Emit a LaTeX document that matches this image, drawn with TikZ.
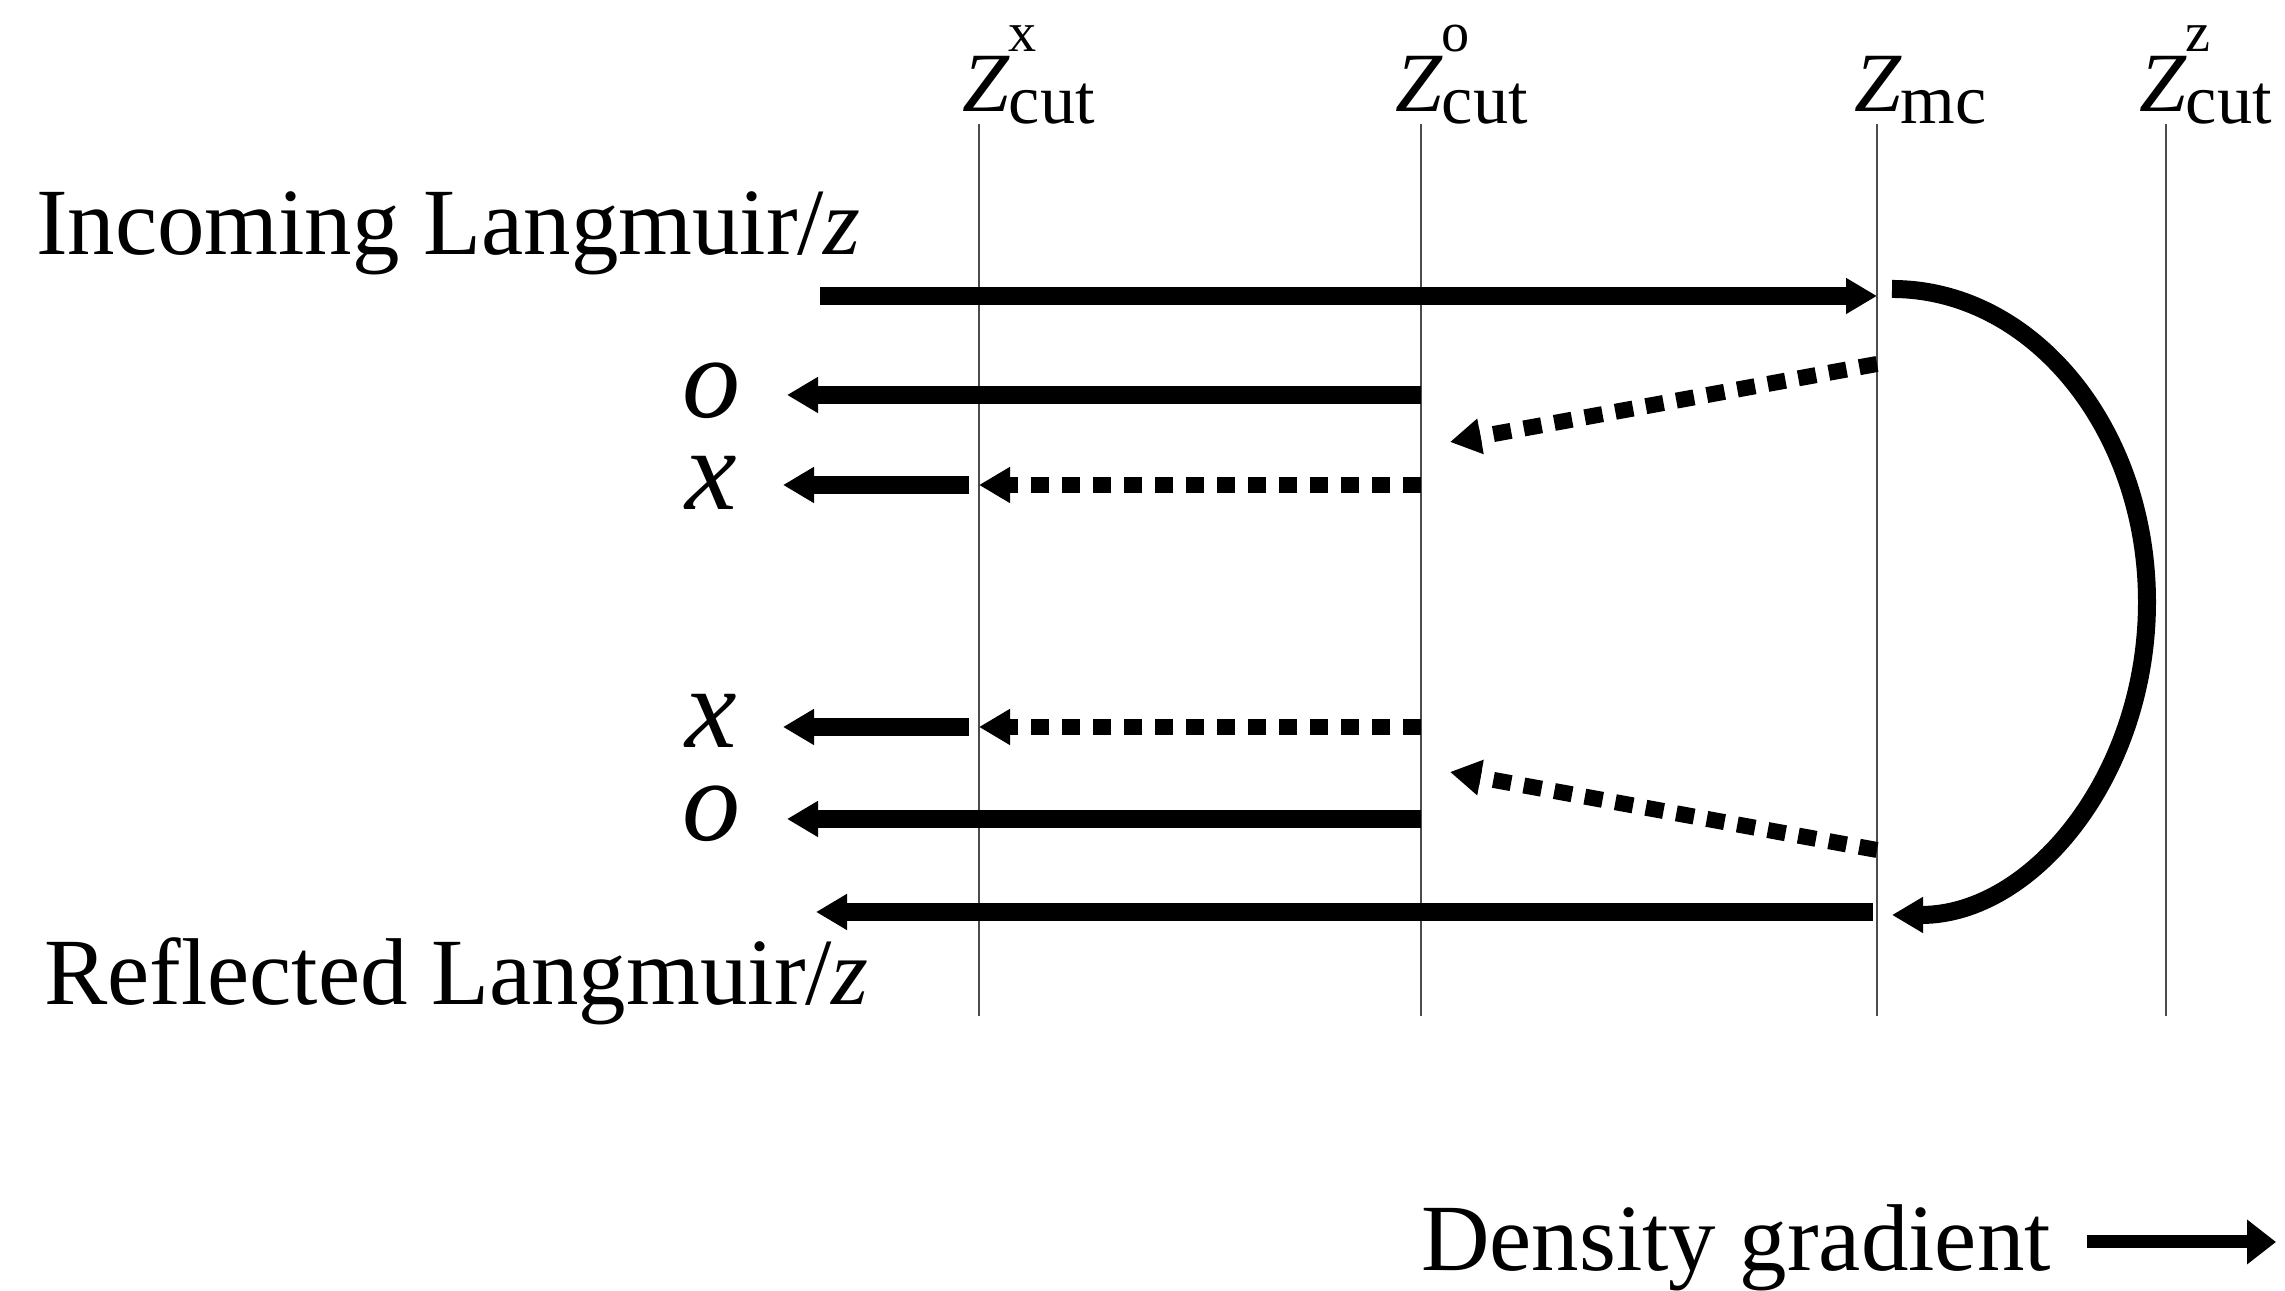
\documentclass[tikz,border=0pt]{standalone}
\usepackage{fontspec}
\setmainfont{Liberation Serif}
\usetikzlibrary{arrows.meta,positioning,calc}

% Z label with superscript and subscript set in text
\newcommand{\zlabel}[2]{{\itshape Z}\rlap{\raisebox{0.72em}{\fontsize{16}{16}\selectfont #1}}\raisebox{-0.14em}{\fontsize{20}{20}\selectfont #2}}

\begin{document}
\begin{tikzpicture}[
  every node/.style={inner sep=0pt, outer sep=0pt},
  txt/.style={font=\fontsize{27}{30}\selectfont, anchor=base west},
  zlab/.style={font=\fontsize{24}{26}\selectfont, anchor=base west},
  mode/.style={font=\fontsize{33}{34}\selectfont\itshape, anchor=base},
  cutline/.style={draw=black!70, line width=0.8pt},
  solidarr/.style={line width=0.18cm, -{Triangle[length=0.31cm, width=0.34cm]}},
  dotarr/.style={line width=0.16cm, dash pattern=on 0.18cm off 0.13cm,
                 -{Triangle[length=0.31cm, width=0.34cm]}},
  gradarr/.style={line width=0.13cm, -{Triangle[length=0.29cm, width=0.43cm]}},
]
\useasboundingbox (0,0) rectangle (22.85,12.91);

%% Cut-off lines
\coordinate (xtop)  at (9.79,11.67);  \coordinate (xbot)  at (9.79,2.75);
\coordinate (otop)  at (14.21,11.67); \coordinate (obot)  at (14.21,2.75);
\coordinate (mctop) at (18.77,11.67); \coordinate (mcbot) at (18.77,2.75);
\coordinate (ztop)  at (21.66,11.67); \coordinate (zbot)  at (21.66,2.75);
\draw[cutline] (xtop) -- (xbot);
\draw[cutline] (otop) -- (obot);
\draw[cutline] (mctop) -- (mcbot);
\draw[cutline] (ztop) -- (zbot);

%% Line labels
\node[zlab] (zx)  at (9.62,11.79)  {\zlabel{x}{cut}};
\node[zlab] (zo)  at (13.95,11.79) {\zlabel{o}{cut}};
\node[zlab] (zmc) at (18.54,11.79) {\zlabel{}{mc}};
\node[zlab] (zz)  at (21.39,11.79) {\zlabel{z}{cut}};

%% Side texts
\node[txt] (incoming)  at (0.36,10.36) {Incoming Langmuir/\textit{z}};
\node[txt] (reflected) at (0.44,2.86)  {Reflected Langmuir/\textit{z}};
\node[mode] (oup)  at (7.11,8.73) {o};
\node[mode] (xup)  at (7.11,7.81) {x};
\node[mode] (xlow) at (7.11,5.43) {x};
\node[mode] (olow) at (7.11,4.50) {o};

%% Incoming wave and turning point
\coordinate (instart) at (8.20,9.95);
\coordinate (inend)   at (18.77,9.95);
\draw[solidarr] (instart) -- (inend);
\draw[solidarr] (18.92,10.02) arc[start angle=90, end angle=-90, x radius=2.55cm, y radius=3.13cm];

%% Reflected wave
\coordinate (rstart) at (18.73,3.79);
\coordinate (rend)   at (8.16,3.79);
\draw[solidarr] (rstart) -- (rend);

%% Upper branch
\draw[solidarr] (14.21,8.96) -- (7.87,8.96);
\draw[dotarr] (18.77,9.27) -- (14.50,8.49);
\draw[dotarr] (14.21,8.06) -- (9.79,8.06);
\draw[solidarr] (9.69,8.06) -- (7.83,8.06);

%% Lower branch
\draw[dotarr] (18.77,4.41) -- (14.50,5.19);
\draw[dotarr] (14.21,5.64) -- (9.79,5.64);
\draw[solidarr] (9.69,5.64) -- (7.83,5.64);
\draw[solidarr] (14.21,4.72) -- (7.87,4.72);

%% Density gradient
\node[txt] (dens) at (14.21,0.20) {Density gradient};
\coordinate (gradstart) at (20.87,0.49);
\coordinate (gradend)   at (22.76,0.49);
\draw[gradarr] (gradstart) -- (gradend);

\end{tikzpicture}
\end{document}
